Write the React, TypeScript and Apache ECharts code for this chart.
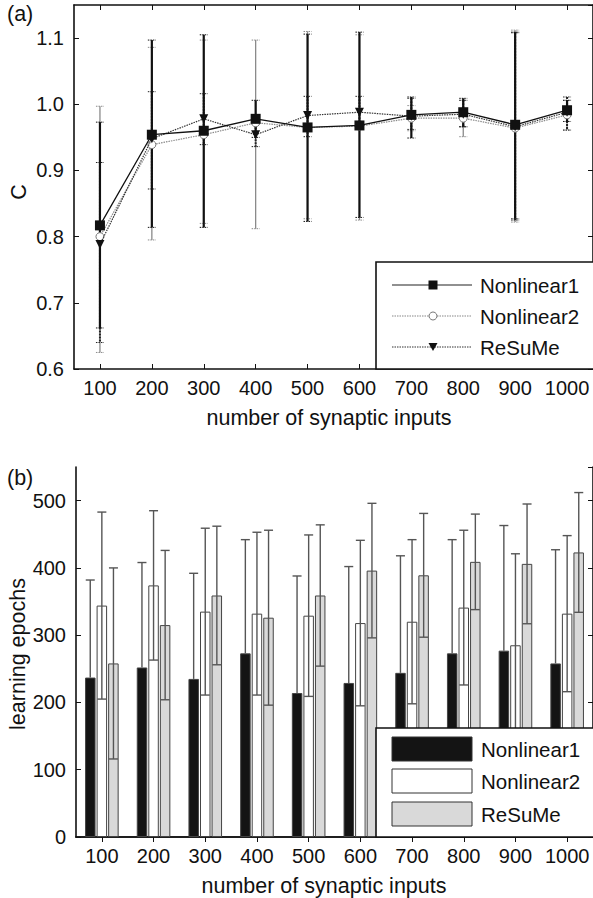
import React, { useEffect, useRef } from "react";
import * as echarts from "echarts";

const categories = ["100", "200", "300", "400", "500", "600", "700", "800", "900", "1000"];
const seriesNames = ["Nonlinear1", "Nonlinear2", "ReSuMe"];

// (a) correlation C
const cNonlinear1 = [0.817, 0.954, 0.96, 0.978, 0.965, 0.968, 0.984, 0.988, 0.969, 0.991];
const cNonlinear2 = [0.8, 0.939, 0.954, 0.972, 0.965, 0.967, 0.979, 0.979, 0.964, 0.984];
const cReSuMe = [0.788, 0.948, 0.978, 0.954, 0.983, 0.988, 0.982, 0.985, 0.966, 0.988];
const cNonlinear1Low = [0.662, 0.814, 0.814, 0.95, 0.823, 0.829, 0.949, 0.966, 0.827, 0.974];
const cNonlinear1High = [0.973, 1.097, 1.105, 1.006, 1.106, 1.109, 1.011, 1.009, 1.109, 1.006];
const cNonlinear2Low = [0.625, 0.795, 0.82, 0.812, 0.827, 0.825, 0.96, 0.951, 0.822, 0.961];
const cNonlinear2High = [0.997, 1.086, 1.097, 1.097, 1.11, 1.105, 0.998, 1.006, 1.112, 1.006];
const cReSuMeLow = [0.64, 0.872, 0.939, 0.936, 0.951, 0.966, 0.962, 0.966, 0.825, 0.961];
const cReSuMeHigh = [0.912, 1.019, 1.016, 0.97, 1.012, 1.012, 1.009, 1.006, 1.108, 1.011];

// (b) learning epochs
const eNonlinear1 = [237, 252, 235, 273, 214, 229, 244, 273, 277, 258];
const eNonlinear1Err = [145, 156, 157, 169, 174, 173, 174, 169, 186, 169];
const eNonlinear2 = [344, 374, 335, 332, 329, 318, 320, 341, 285, 332];
const eNonlinear2Err = [139, 111, 124, 121, 120, 123, 122, 115, 136, 116];
const eReSuMe = [258, 315, 359, 326, 359, 396, 389, 409, 406, 423];
const eReSuMeErr = [142, 111, 103, 130, 105, 100, 92, 71, 89, 89];

const FONT = "'Liberation Sans', Arial, Helvetica, sans-serif";
const INK = "#111";
const TICK_FS = 20;
const TITLE_FS = 21.5;
const LEG_FS = 20.5;

function App() {
  const ref = useRef<HTMLDivElement>(null);
  useEffect(() => {
    if (!ref.current) return;
    const chart = echarts.init(ref.current, null, { renderer: "svg" });

    const axisLine = { show: true, lineStyle: { color: INK, width: 1.6 } };
    const tickIn = { show: true, inside: true, length: 5, alignWithLabel: true, lineStyle: { color: INK, width: 1 } };
    const label = { fontSize: TICK_FS, color: INK, fontFamily: FONT };

    const xAxisFor = (g: number) => [
      {
        gridIndex: g, type: "category", data: categories, position: "bottom", boundaryGap: true,
        axisLine, axisTick: tickIn, axisLabel: { ...label, margin: 9, interval: 0 }, splitLine: { show: false },
      },
      {
        gridIndex: g, type: "category", data: categories, position: "top", boundaryGap: true,
        axisLine, axisTick: tickIn, axisLabel: { show: false }, splitLine: { show: false },
      },
    ];
    const yAxisFor = (g: number, min: number, max: number, interval: number, fmt: (v: number) => string) => [
      {
        gridIndex: g, type: "value", min, max, interval, position: "left",
        axisLine, axisTick: { ...tickIn, alignWithLabel: undefined },
        axisLabel: { ...label, margin: 10, showMaxLabel: false, formatter: fmt }, splitLine: { show: false },
      },
      {
        gridIndex: g, type: "value", min, max, interval, position: "right",
        axisLine, axisTick: { ...tickIn, alignWithLabel: undefined }, axisLabel: { show: false }, splitLine: { show: false },
      },
    ];

    const lineErr = (low: number[], high: number[], color: string, width: number, dash: number[] | null, z: number) => ({
      type: "custom",
      xAxisIndex: 0, yAxisIndex: 0, z,
      silent: true,
      encode: { x: 0, y: [1, 2] },
      data: low.map((lo, i) => [i, lo, high[i]]),
      renderItem: (_p: any, api: any) => {
        const i = api.value(0);
        const top = api.coord([i, api.value(2)]);
        const bot = api.coord([i, api.value(1)]);
        const w = 4;
        const st = { stroke: color, lineWidth: width, lineDash: dash || undefined };
        const cap = { stroke: color, lineWidth: 1, lineDash: [1.5, 1] };
        return {
          type: "group",
          children: [
            { type: "line", shape: { x1: top[0], y1: top[1], x2: bot[0], y2: bot[1] }, style: st },
            { type: "line", shape: { x1: top[0] - w, y1: top[1], x2: top[0] + w, y2: top[1] }, style: cap },
            { type: "line", shape: { x1: bot[0] - w, y1: bot[1], x2: bot[0] + w, y2: bot[1] }, style: cap },
          ],
        };
      },
    });

    const BAR_W = 10.5;
    const BAR_STEP = 11.6;
    // error bars of the bar chart; hideLower: the part that falls inside a black bar is not visible
    const barErr = (vals: number[], errs: number[], k: number, hideLower: boolean) => ({
      type: "custom",
      xAxisIndex: 2, yAxisIndex: 2, z: 5,
      silent: true,
      encode: { x: 0, y: [1, 2, 3] },
      data: vals.map((v, i) => [i, v - errs[i], v + errs[i], v]),
      renderItem: (_p: any, api: any) => {
        const i = api.value(0);
        const top = api.coord([i, api.value(2)]);
        const bot = api.coord([i, hideLower ? api.value(3) : api.value(1)]);
        const x = top[0] + (k - 1) * BAR_STEP;
        const w = 4.5;
        const st = { stroke: "#555", lineWidth: 1.4 };
        const children: any[] = [
          { type: "line", shape: { x1: x, y1: top[1], x2: x, y2: bot[1] }, style: st },
          { type: "line", shape: { x1: x - w, y1: top[1], x2: x + w, y2: top[1] }, style: st },
        ];
        if (!hideLower) children.push({ type: "line", shape: { x1: x - w, y1: bot[1], x2: x + w, y2: bot[1] }, style: st });
        return { type: "group", children };
      },
    });

    const barFill = ["#141414", "#ffffff", "#d9d9d9"];
    const barData = [eNonlinear1, eNonlinear2, eReSuMe];
    const barErrs = [eNonlinear1Err, eNonlinear2Err, eReSuMeErr];

    const legA = { x: 376, y: 262, rowY: [285, 316, 347] };
    const legB = { x: 376, y: 728, rowY: [749, 781, 814] };
    const lineLegendStyles = [
      { stroke: "#222", lineDash: null as any, lw: 1.2 },
      { stroke: "#888", lineDash: [1.5, 1], lw: 1.2 },
      { stroke: "#333", lineDash: [1.5, 1], lw: 1.2 },
    ];

    const txt = (fs: number) => ({ fontSize: fs, fill: INK, fontFamily: FONT });
    const graphic: any[] = [
      { type: "text", left: 7, top: 3, style: { text: "(a)", ...txt(TITLE_FS) } },
      { type: "text", left: 7, top: 467, style: { text: "(b)", ...txt(TITLE_FS) } },
      {
        type: "text", x: 19, y: 192, rotation: Math.PI / 2,
        style: { text: "C", ...txt(TITLE_FS), align: "center", verticalAlign: "middle" },
      },
      {
        type: "text", x: 18, y: 654, rotation: Math.PI / 2,
        style: { text: "learning epochs", ...txt(TITLE_FS), align: "center", verticalAlign: "middle" },
      },
      {
        type: "text", x: 329, y: 418,
        style: { text: "number of synaptic inputs", ...txt(TITLE_FS), align: "center", verticalAlign: "middle" },
      },
      {
        type: "text", x: 324, y: 886,
        style: { text: "number of synaptic inputs", ...txt(TITLE_FS), align: "center", verticalAlign: "middle" },
      },
      {
        type: "rect", z: 100, shape: { x: legA.x, y: legA.y, width: 240, height: 107 },
        style: { fill: "#fff", stroke: INK, lineWidth: 1.6 },
      },
      {
        type: "rect", z: 100, shape: { x: legB.x, y: legB.y, width: 240, height: 109 },
        style: { fill: "#fff", stroke: INK, lineWidth: 1.6 },
      },
    ];
    seriesNames.forEach((name, k) => {
      const ls = lineLegendStyles[k];
      const yy = legA.rowY[k];
      graphic.push({
        type: "line", z: 101, shape: { x1: 392, y1: yy, x2: 472, y2: yy },
        style: { stroke: ls.stroke, lineWidth: ls.lw, lineDash: ls.lineDash || undefined },
      });
      if (k === 0) graphic.push({ type: "rect", z: 102, shape: { x: 428.5, y: yy - 4.5, width: 9, height: 9 }, style: { fill: "#111" } });
      if (k === 1) graphic.push({ type: "circle", z: 102, shape: { cx: 433, cy: yy, r: 4 }, style: { fill: "#fff", stroke: "#777", lineWidth: 1 } });
      if (k === 2) graphic.push({ type: "polygon", z: 102, shape: { points: [[428.5, yy - 4], [437.5, yy - 4], [433, yy + 4]] }, style: { fill: "#111" } });
      graphic.push({
        type: "text", z: 102, x: 480, y: yy,
        style: { text: name, ...txt(LEG_FS), verticalAlign: "middle" },
      });
      const yb = legB.rowY[k];
      graphic.push({
        type: "rect", z: 101, shape: { x: 392, y: yb - 12, width: 80, height: 24 },
        style: { fill: barFill[k], stroke: "#333", lineWidth: 1 },
      });
      graphic.push({
        type: "text", z: 102, x: 481, y: yb,
        style: { text: name, ...txt(LEG_FS), verticalAlign: "middle" },
      });
    });

    const option: any = {
      animation: false,
      backgroundColor: "#fff",
      textStyle: { fontFamily: FONT },
      grid: [
        { left: 74, top: 5, width: 520, height: 364, containLabel: false },
        { left: 76, top: 467, width: 520, height: 370, containLabel: false },
      ],
      xAxis: [...xAxisFor(0), ...xAxisFor(1)],
      yAxis: [
        ...yAxisFor(0, 0.6, 1.15, 0.1, (v: number) => v.toFixed(1)),
        ...yAxisFor(1, 0, 550, 100, (v: number) => String(Math.round(v))),
      ],
      graphic,
      series: [
        lineErr(cNonlinear2Low, cNonlinear2High, "#8a8a8a", 1.3, null, 2),
        lineErr(cReSuMeLow, cReSuMeHigh, "#222", 2, [2, 1], 3),
        lineErr(cNonlinear1Low, cNonlinear1High, "#111", 2.2, null, 4),
        {
          name: seriesNames[1], type: "line", xAxisIndex: 0, yAxisIndex: 0, z: 6,
          data: cNonlinear2, symbol: "circle", symbolSize: 8,
          lineStyle: { color: "#8a8a8a", width: 1.2, type: [1.5, 1] },
          itemStyle: { color: "#fff", borderColor: "#777", borderWidth: 1 },
        },
        {
          name: seriesNames[2], type: "line", xAxisIndex: 0, yAxisIndex: 0, z: 7,
          data: cReSuMe, symbol: "triangle", symbolRotate: 180, symbolSize: 9,
          lineStyle: { color: "#333", width: 1.2, type: [1.5, 1] },
          itemStyle: { color: "#111" },
        },
        {
          name: seriesNames[0], type: "line", xAxisIndex: 0, yAxisIndex: 0, z: 8,
          data: cNonlinear1, symbol: "rect", symbolSize: 10,
          lineStyle: { color: "#111", width: 1.3 },
          itemStyle: { color: "#111" },
        },
        ...barData.map((d, k) => ({
          name: seriesNames[k], type: "bar", xAxisIndex: 2, yAxisIndex: 2, z: 3,
          data: d, barWidth: BAR_W, barGap: "10%",
          itemStyle: { color: barFill[k], borderColor: "#444", borderWidth: 1 },
        })),
        ...barData.map((d, k) => barErr(d, barErrs[k], k, k === 0)),
      ],
    };
    chart.setOption(option);
    return () => chart.dispose();
  }, []);
  return (
    <div
      ref={ref}
      style={{ position: "absolute", left: 0, top: 0, width: 593, height: 898, background: "#fff" }}
    />
  );
}

export default App;
